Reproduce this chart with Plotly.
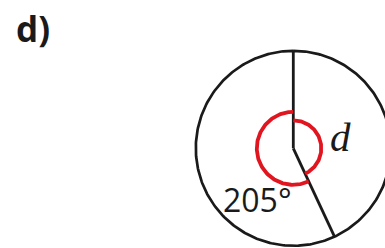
import numpy as np
import plotly.graph_objects as go

# --- diagram values ---
label_part = "d)"
known_angle = 205          # degrees, reflex angle on the left
unknown_label = "d"
full_turn = 360
unknown_angle = full_turn - known_angle   # 155

# geometry (pixel space)
W, H = 385, 248
cx, cy = 293.3, 148.3
R = 97.5
r_known = 36.5
r_unknown = 28.0

def pt(theta_deg, r):
    # theta measured clockwise from "up", y axis pointing down
    t = np.radians(theta_deg)
    return cx + r * np.sin(t), cy - r * np.cos(t)

fig = go.Figure()

# big circle
th = np.linspace(0, 360, 361)
x, y = pt(th, R)
fig.add_trace(go.Scatter(x=x, y=y, mode="lines", line=dict(color="#1a1a1a", width=2.7), hoverinfo="skip"))

# radii: up (0 deg) and at unknown_angle clockwise from up
for a in (0, unknown_angle):
    x0, y0 = pt(a, 0)
    x1, y1 = pt(a, R)
    fig.add_trace(go.Scatter(x=[x1, x0], y=[y1, y0], mode="lines",
                             line=dict(color="#1a1a1a", width=2.8), hoverinfo="skip"))

# red arcs
red = "#e1151f"
th_u = np.linspace(0, unknown_angle, 120)
x, y = pt(th_u, r_unknown)
fig.add_trace(go.Scatter(x=x, y=y, mode="lines", line=dict(color=red, width=3.8), hoverinfo="skip"))
th_k = np.linspace(unknown_angle, full_turn, 160)
x, y = pt(th_k, r_known)
fig.add_trace(go.Scatter(x=x, y=y, mode="lines", line=dict(color=red, width=3.8), hoverinfo="skip"))

fig.add_annotation(x=14, y=28, text=f"<b>{label_part}</b>", showarrow=False,
                   xanchor="left", yanchor="middle",
                   font=dict(family="Open Sans", size=35, color="#1a1a1a"))
fig.add_annotation(x=221, y=199, text=f"{known_angle}°", showarrow=False,
                   xanchor="left", yanchor="middle",
                   font=dict(family="Open Sans", size=32, color="#1a1a1a"))
fig.add_annotation(x=328, y=137, text=f"<i>{unknown_label}</i>", showarrow=False,
                   xanchor="left", yanchor="middle",
                   font=dict(family="Liberation Serif", size=41, color="#1a1a1a"))

fig.update_layout(width=W, height=H, margin=dict(l=0, r=0, t=0, b=0),
                  paper_bgcolor="white", plot_bgcolor="white", showlegend=False,
                  xaxis=dict(range=[0, W], visible=False, fixedrange=True),
                  yaxis=dict(range=[H, 0], visible=False, fixedrange=True))
fig.write_html("out.html", config={"displayModeBar": False},
               post_script="document.body.style.margin='0';document.body.style.overflow='hidden';")
